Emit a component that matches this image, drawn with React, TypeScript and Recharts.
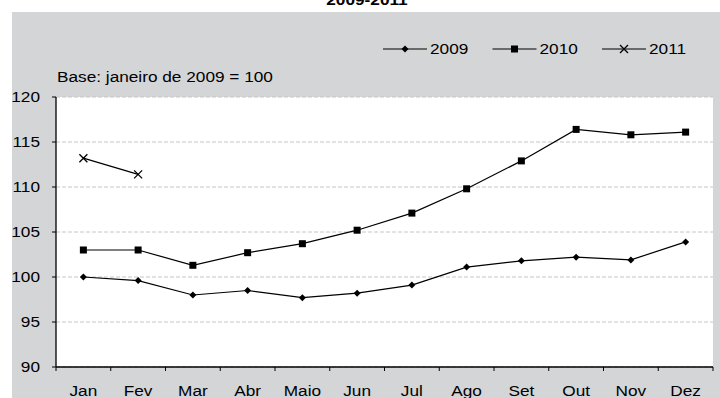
import React from "react";
import { LineChart, Line, XAxis, YAxis, CartesianGrid } from "recharts";

const months = ["Jan", "Fev", "Mar", "Abr", "Maio", "Jun", "Jul", "Ago", "Set", "Out", "Nov", "Dez"];
const values2009 = [100, 99.6, 98.0, 98.5, 97.7, 98.2, 99.1, 101.1, 101.8, 102.2, 101.9, 103.9];
const values2010 = [103.0, 103.0, 101.3, 102.7, 103.7, 105.2, 107.1, 109.8, 112.9, 116.4, 115.8, 116.1];
const values2011 = [113.2, 111.4];
const yTicks = [90, 95, 100, 105, 110, 115, 120];
const seriesNames = ["2009", "2010", "2011"];

const data = months.map((m, i) => ({
    month: m,
    y2009: values2009[i],
    y2010: values2010[i],
    y2011: i < values2011.length ? values2011[i] : null,
}));

const FONT = "'Liberation Sans', Arial, sans-serif";
const STRETCH = 1.23;
const BG = "#d4d5d7";

// markers
const Diamond = ({ cx, cy }: any) => {
    if (cx == null || cy == null) return null;
    return <path d={`M${cx},${cy - 3.5} L${cx + 3.5},${cy} L${cx},${cy + 3.5} L${cx - 3.5},${cy} Z`} fill="#000" />;
};

const Square = ({ cx, cy }: any) => {
    if (cx == null || cy == null) return null;
    return <rect x={cx - 3.5} y={cy - 3.5} width={7} height={7} fill="#000" />;
};

const Cross = ({ cx, cy }: any) => {
    if (cx == null || cy == null) return null;
    return (
        <path
            d={`M${cx - 4},${cy - 4} L${cx + 4},${cy + 4} M${cx - 4},${cy + 4} L${cx + 4},${cy - 4}`}
            stroke="#000"
            strokeWidth={1.3}
            fill="none"
        />
    );
};

const markers = [Diamond, Square, Cross];

const MonthTick = ({ x, y, payload, index, width }: any) => {
    const half = width / months.length / 2;
    const axisY = y - 18;
    return (
        <g>
            <line x1={x - half} y1={axisY} x2={x - half} y2={axisY + 4} stroke="#000" />
            {index === months.length - 1 && (
                <line x1={x + half} y1={axisY} x2={x + half} y2={axisY + 4} stroke="#000" />
            )}
            <g transform={`translate(${x},${y + 11}) scale(${STRETCH},1)`}>
                <text textAnchor="middle" fontSize={14} fontFamily={FONT} fill="#000">
                    {payload.value}
                </text>
            </g>
        </g>
    );
};

const ValueTick = ({ x, y, payload }: any) => (
    <g transform={`translate(${x},${y}) scale(${STRETCH},1)`}>
        <text textAnchor="end" dy="0.36em" fontSize={14} fontFamily={FONT} fill="#000">
            {payload.value}
        </text>
    </g>
);

function LegendBox() {
    return (
        <svg width={320} height={20} style={{ position: "absolute", left: 380, top: 39 }}>
            {seriesNames.map((name, i) => {
                const M = markers[i];
                const x0 = 3 + i * 109.5;
                return (
                    <g key={name}>
                        <line x1={x0} y1={10} x2={x0 + 44} y2={10} stroke="#000" strokeWidth={1.2} />
                        <M cx={x0 + 22} cy={10} />
                        <g transform={`translate(${x0 + 47},15) scale(${STRETCH},1)`}>
                            <text fontSize={14} fontFamily={FONT} fill="#000">
                                {name}
                            </text>
                        </g>
                    </g>
                );
            })}
        </svg>
    );
}

export default function App() {
    return (
        <div style={{ position: "absolute", left: 0, top: 0, width: 720, height: 398, overflow: "hidden", background: "#fff" }}>
            <div style={{ position: "absolute", left: 12, top: 12, width: 708, height: 386, background: BG }} />
            <div
                style={{
                    position: "absolute",
                    left: 367,
                    top: -7,
                    fontFamily: FONT,
                    fontWeight: "bold",
                    fontSize: 14,
                    lineHeight: "14px",
                    whiteSpace: "nowrap",
                    transform: `translateX(-50%) scaleX(${STRETCH})`,
                }}
            >
                2009-2011
            </div>
            <div
                style={{
                    position: "absolute",
                    left: 57,
                    top: 70,
                    fontFamily: FONT,
                    fontSize: 14,
                    lineHeight: "14px",
                    whiteSpace: "nowrap",
                    transform: `scaleX(${STRETCH})`,
                    transformOrigin: "left center",
                }}
            >
                Base: janeiro de 2009 = 100
            </div>
            <LegendBox />
            <div style={{ position: "absolute", left: 0, top: 0 }}>
                <LineChart width={720} height={398} data={data} margin={{ top: 97, right: 7, left: 0, bottom: 0 }}>
                    <CartesianGrid vertical={false} stroke="#c6c6c6" strokeDasharray="4 2" fill="#ffffff" />
                    <XAxis
                        dataKey="month"
                        scale="band"
                        height={31}
                        axisLine={{ stroke: "#000", strokeWidth: 1.3 }}
                        tickLine={false}
                        tickSize={0}
                        tickMargin={18}
                        interval={0}
                        tick={<MonthTick />}
                    />
                    <YAxis
                        width={56}
                        domain={[90, 120]}
                        ticks={yTicks}
                        interval={0}
                        axisLine={{ stroke: "#000", strokeWidth: 1.3 }}
                        tickLine={{ stroke: "#000" }}
                        tickSize={4}
                        tickMargin={12}
                        tick={<ValueTick />}
                    />
                    <Line dataKey="y2009" stroke="#000" strokeWidth={1.2} dot={<Diamond />} activeDot={false} isAnimationActive={false} />
                    <Line dataKey="y2010" stroke="#000" strokeWidth={1.2} dot={<Square />} activeDot={false} isAnimationActive={false} />
                    <Line dataKey="y2011" stroke="#000" strokeWidth={1.2} dot={<Cross />} activeDot={false} isAnimationActive={false} />
                </LineChart>
            </div>
        </div>
    );
}
